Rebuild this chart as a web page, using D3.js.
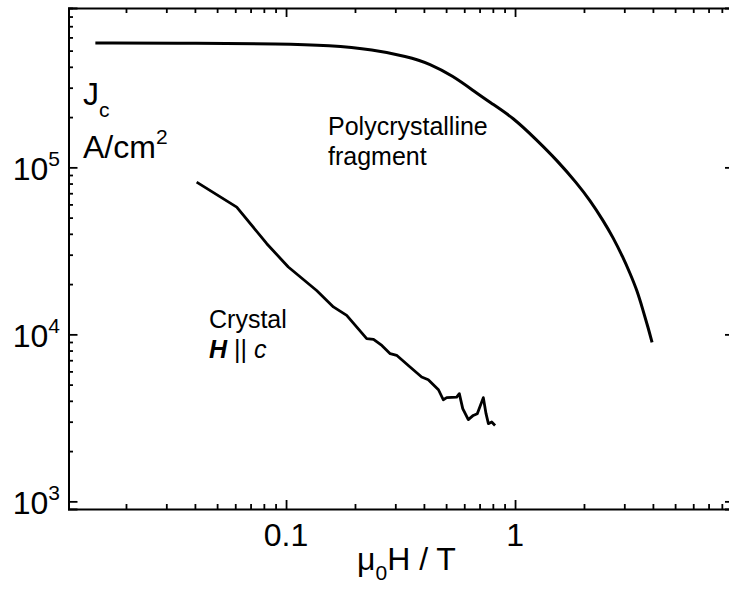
<!DOCTYPE html>
<html>
<head>
<meta charset="utf-8">
<script src="https://cdn.jsdelivr.net/npm/d3@7"></script>
<style>
  body { margin: 0; background: #fff; }
  svg { display: block; }
  text { font-family: "Liberation Sans", Arial, sans-serif; fill: #000; }
</style>
</head>
<body>
<div id="chart"></div>
<script>
// polycrystalline fragment, field in T and Jc in A/cm^2
var polyField = [0.0147, 0.0421, 0.0941, 0.156, 0.2405, 0.3365, 0.4254, 0.5377, 0.6574, 0.7776, 0.98,
  1.248, 1.526, 1.865, 2.126, 2.423, 2.679, 2.962, 3.178, 3.41, 3.622, 3.809, 3.966]
var polyJc = [5.55e5, 5.53e5, 5.505e5, 5.377e5, 5.067e5, 4.62e5, 4.18e5, 3.51e5, 2.88e5, 2.449e5, 1.99e5,
  1.451e5, 1.101e5, 8.02e4, 6.345e4, 4.815e4, 3.81e4, 2.891e4, 2.319e4, 1.834e4, 1.392e4, 1.102e4, 8950]

// single crystal, H || c
var crystalField = [0.0407, 0.0609, 0.0824, 0.1023, 0.136, 0.161, 0.184, 0.225, 0.241, 0.262, 0.285, 0.304,
  0.348, 0.391, 0.418, 0.463, 0.486, 0.503, 0.556, 0.571, 0.591, 0.625, 0.657, 0.684, 0.727, 0.747, 0.765, 0.791, 0.818]
var crystalJc = [81600, 57800, 34900, 25300, 18300, 14600, 13000, 9430, 9330, 8590, 7660, 7490,
  6370, 5550, 5350, 4660, 4060, 4180, 4210, 4415, 3590, 3085, 3270, 3350, 4180, 3350, 2920, 2985, 2850]

var xMajor = [0.1, 1]
var xMajorLabels = ['0.1', '1']
var xMinor = [0.02, 0.03, 0.04, 0.05, 0.06, 0.07, 0.08, 0.09, 0.2, 0.3, 0.4, 0.5, 0.6, 0.7, 0.8, 0.9,
  2, 3, 4, 5, 6, 7, 8, 9]
var yMajor = [1e3, 1e4, 1e5]
var yExponents = ['3', '4', '5']
var yMinor = [2e3, 3e3, 4e3, 5e3, 6e3, 7e3, 8e3, 9e3, 2e4, 3e4, 4e4, 5e4, 6e4, 7e4, 8e4, 9e4,
  2e5, 3e5, 4e5, 5e5, 6e5, 7e5, 8e5, 9e5]

var width = 729
var height = 589
var plotLeft = 68.5, plotRight = 734, plotTop = 8, plotBottom = 509

var svg = d3.select('#chart').append('svg')
  .attr('width', width)
  .attr('height', height)

var x = d3.scaleLog().domain([0.01122, 9.04]).range([plotLeft, plotRight])
var y = d3.scaleLog().domain([900, 9e5]).range([plotBottom, plotTop])

// frame axes, ticks all point inward
function drawAxis(axis, transform, size, values) {
  var g = svg.append('g')
    .attr('transform', transform)
    .call(axis.tickValues(values).tickSize(size).tickFormat(''))
  g.selectAll('.domain').attr('stroke-width', 2).attr('stroke', '#000')
  g.selectAll('.tick line').attr('stroke-width', 1.8).attr('stroke', '#000')
  return g
}

drawAxis(d3.axisBottom(x), 'translate(0,' + plotBottom + ')', -9, xMajor)
drawAxis(d3.axisBottom(x), 'translate(0,' + plotBottom + ')', -5, xMinor).select('.domain').remove()
drawAxis(d3.axisTop(x), 'translate(0,' + plotTop + ')', -9, xMajor)
drawAxis(d3.axisTop(x), 'translate(0,' + plotTop + ')', -5, xMinor).select('.domain').remove()
drawAxis(d3.axisLeft(y), 'translate(' + plotLeft + ',0)', -9, yMajor)
drawAxis(d3.axisLeft(y), 'translate(' + plotLeft + ',0)', -4.5, yMinor).select('.domain').remove()
drawAxis(d3.axisRight(y), 'translate(' + plotRight + ',0)', -9, yMajor)
drawAxis(d3.axisRight(y), 'translate(' + plotRight + ',0)', -4.5, yMinor).select('.domain').remove()

// x tick labels
svg.selectAll('.xlab')
  .data(xMajor)
  .enter()
  .append('text')
  .attr('x', d => x(d))
  .attr('y', plotBottom + 37)
  .attr('text-anchor', 'middle')
  .style('font-size', '32px')
  .text((d, i) => xMajorLabels[i])

// y tick labels, 10 with a superscript exponent
var ylab = svg.selectAll('.ylab')
  .data(yMajor)
  .enter()
  .append('text')
  .attr('x', 60)
  .attr('y', d => y(d) + 13)
  .attr('text-anchor', 'end')
  .style('font-size', '32px')
ylab.append('tspan').text('10')
ylab.append('tspan').attr('dy', -14).style('font-size', '21px').text((d, i) => yExponents[i])

// axis titles
var xt = svg.append('text')
  .attr('x', 357)
  .attr('y', 570)
  .style('font-size', '32px')
xt.append('tspan').text('\u03bc')
xt.append('tspan').attr('dy', 10).style('font-size', '21px').text('0')
xt.append('tspan').attr('dy', -10).text('H / T')

var jt = svg.append('text').attr('x', 83).attr('y', 105).style('font-size', '32px')
jt.append('tspan').text('J')
jt.append('tspan').attr('dy', 12).style('font-size', '21px').text('c')

var at = svg.append('text').attr('x', 83).attr('y', 158).style('font-size', '32px')
at.append('tspan').text('A/cm')
at.append('tspan').attr('dy', -14).style('font-size', '21px').text('2')

// curve labels
svg.append('text').attr('x', 328).attr('y', 135).style('font-size', '25px').text('Polycrystalline')
svg.append('text').attr('x', 328).attr('y', 165).style('font-size', '25px').text('fragment')
svg.append('text').attr('x', 209).attr('y', 328).style('font-size', '25px').text('Crystal')
var hc = svg.append('text').attr('x', 209).attr('y', 358).style('font-size', '25px')
hc.append('tspan').style('font-weight', 'bold').style('font-style', 'italic').text('H')
hc.append('tspan').text(' || ')
hc.append('tspan').style('font-style', 'italic').text('c')

// curves
var polyData = polyField.map((f, i) => [f, polyJc[i]])
var crystalData = crystalField.map((f, i) => [f, crystalJc[i]])

svg.append('path')
  .datum(polyData)
  .attr('fill', 'none')
  .attr('stroke', '#000')
  .attr('stroke-width', 3)
  .attr('d', d3.line().x(d => x(d[0])).y(d => y(d[1])).curve(d3.curveBasis))

svg.append('path')
  .datum(crystalData)
  .attr('fill', 'none')
  .attr('stroke', '#000')
  .attr('stroke-width', 2.8)
  .attr('stroke-linejoin', 'round')
  .attr('d', d3.line().x(d => x(d[0])).y(d => y(d[1])))
</script>
</body>
</html>
